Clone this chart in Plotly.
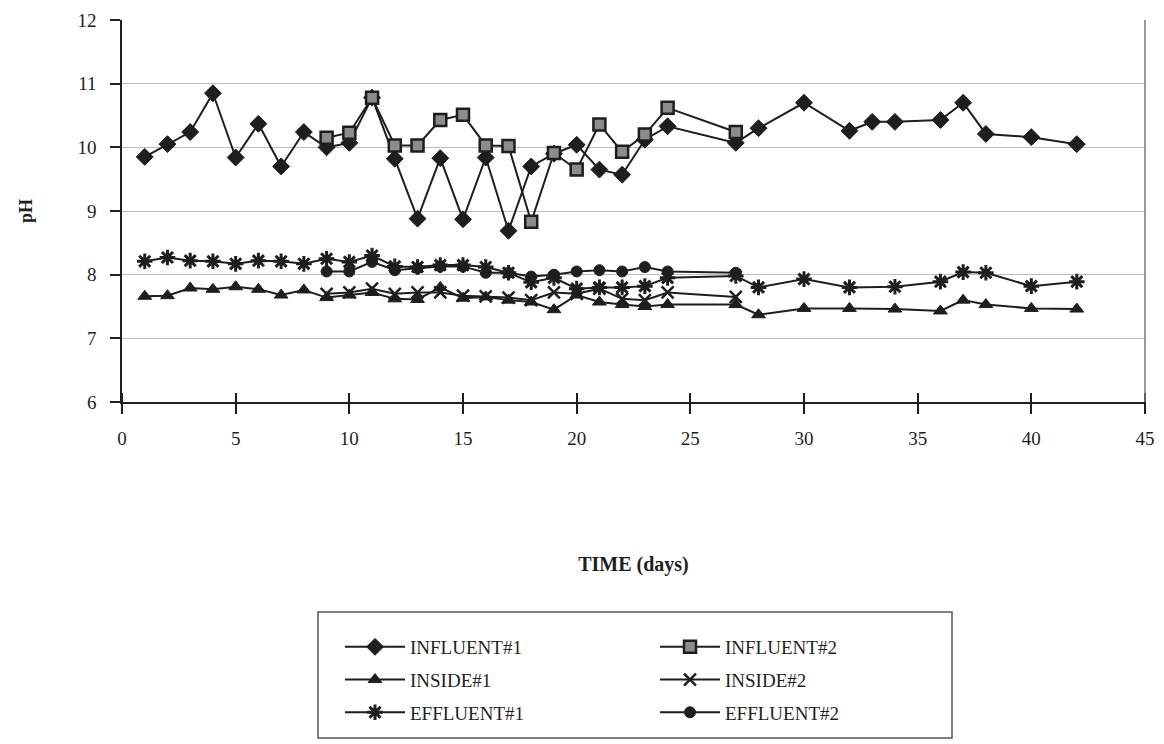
import plotly.graph_objects as go

# ---------------- data ----------------
days_1 = [1, 2, 3, 4, 5, 6, 7, 8, 9, 10, 11, 12, 13, 14, 15, 16, 17, 18, 19, 20,
          21, 22, 23, 24, 27, 28, 30, 32, 33, 34, 36, 37, 38, 40, 42]
influent_1 = [9.85, 10.05, 10.24, 10.85, 9.84, 10.37, 9.70, 10.24, 10.0, 10.07,
              10.78, 9.82, 8.88, 9.83, 8.87, 9.84, 8.69, 9.70, 9.90, 10.04,
              9.65, 9.57, 10.12, 10.33, 10.07, 10.30, 10.70, 10.26, 10.40, 10.40,
              10.43, 10.70, 10.21, 10.16, 10.05]

days_1b = [1, 2, 3, 4, 5, 6, 7, 8, 9, 10, 11, 12, 13, 14, 15, 16, 17, 18, 19, 20,
           21, 22, 23, 24, 27, 28, 30, 32, 34, 36, 37, 38, 40, 42]
inside_1 = [7.66, 7.67, 7.79, 7.77, 7.81, 7.77, 7.68, 7.76, 7.64, 7.68,
            7.72, 7.62, 7.61, 7.80, 7.63, 7.65, 7.60, 7.57, 7.45, 7.68,
            7.57, 7.53, 7.50, 7.53, 7.53, 7.37, 7.47, 7.47, 7.46, 7.43,
            7.60, 7.53, 7.47, 7.46]
effluent_1 = [8.21, 8.27, 8.22, 8.21, 8.17, 8.22, 8.21, 8.17, 8.25, 8.20,
              8.30, 8.13, 8.12, 8.15, 8.15, 8.12, 8.03, 7.88, 7.95, 7.78,
              7.80, 7.80, 7.82, 7.95, 7.98, 7.80, 7.93, 7.80, 7.81, 7.89,
              8.04, 8.03, 7.82, 7.89]

days_2 = [9, 10, 11, 12, 13, 14, 15, 16, 17, 18, 19, 20, 21, 22, 23, 24, 27]
influent_2 = [10.15, 10.23, 10.78, 10.03, 10.03, 10.43, 10.51, 10.03, 10.02,
              8.83, 9.91, 9.65, 10.36, 9.93, 10.20, 10.62, 10.24]
inside_2 = [7.70, 7.72, 7.78, 7.70, 7.72, 7.72, 7.67, 7.66, 7.64,
            7.60, 7.72, 7.70, 7.78, 7.62, 7.60, 7.72, 7.65]
effluent_2 = [8.05, 8.05, 8.20, 8.07, 8.10, 8.13, 8.13, 8.03, 8.03,
              7.97, 8.00, 8.05, 8.07, 8.05, 8.12, 8.05, 8.03]

x_ticks = [0, 5, 10, 15, 20, 25, 30, 35, 40, 45]
y_ticks = [6, 7, 8, 9, 10, 11, 12]

# ---------------- styles ----------------
SERIF = "Liberation Serif"
INK = "#1e1e1e"
LINE = dict(color=INK, width=2)

fig = go.Figure()

def add(name, x, y, marker, legend, group):
    fig.add_trace(go.Scatter(
        x=x, y=y, name=name, mode="lines+markers",
        line=LINE, marker=marker, legend=legend, legendgroup=group,
    ))

add("INFLUENT#1", days_1, influent_1,
    dict(symbol="diamond", size=13, color=INK, line=dict(color=INK, width=1)), "legend", "a")
add("INSIDE#1", days_1b, inside_1,
    dict(symbol="triangle-up", size=12, color=INK, line=dict(color=INK, width=1)), "legend", "b")
add("EFFLUENT#1", days_1b, effluent_1,
    dict(symbol="asterisk-open", size=13, color=INK, line=dict(color=INK, width=3)), "legend", "c")
add("INFLUENT#2", days_2, influent_2,
    dict(symbol="square", size=12, color="#8c8c8c", line=dict(color=INK, width=2.5)), "legend2", "d")
add("INSIDE#2", days_2, inside_2,
    dict(symbol="x-thin-open", size=12, color=INK, line=dict(color=INK, width=2.5)), "legend2", "e")
add("EFFLUENT#2", days_2, effluent_2,
    dict(symbol="circle", size=11, color=INK, line=dict(color=INK, width=1)), "legend2", "f")

# plot area geometry (pixels)
W, H = 1164, 744
L, R, T, B = 122, 19, 20, 342
pw, ph = W - L - R, H - T - B

def px_x(p):
    return (p - L) / pw

def px_y(p):
    return (H - B - p) / ph

legend_common = dict(
    font=dict(family=SERIF, size=19, color=INK),
    bgcolor="rgba(0,0,0,0)", borderwidth=0,
    xanchor="left", yanchor="top", orientation="v",
    itemwidth=60, tracegroupgap=5, traceorder="grouped",
)

fig.update_layout(
    width=W, height=H,
    margin=dict(l=L, r=R, t=T, b=B, autoexpand=False),
    paper_bgcolor="white", plot_bgcolor="white",
    font=dict(family=SERIF, size=19, color=INK),
    showlegend=True,
    legend=dict(x=px_x(340), y=px_y(628), **legend_common),
    legend2=dict(x=px_x(655), y=px_y(628), **legend_common),
    xaxis=dict(
        range=[0, 45], tickvals=x_ticks, ticktext=[str(v) for v in x_ticks],
        showgrid=False, zeroline=False,
        showline=True, linecolor=INK, linewidth=1.5,
        ticks="outside", ticklen=10, tickwidth=1.5, tickcolor=INK,
        ticklabelstandoff=8,
        tickfont=dict(family=SERIF, size=19, color=INK),
        title=dict(text="<b>TIME (days)</b>", standoff=109,
                   font=dict(family=SERIF, size=20, color=INK)),
        automargin=False,
    ),
    # second copy of the x axis, lifted 10 px, whose long ticks make the
    # main ticks cross the axis line (Excel "cross" tick marks)
    xaxis2=dict(
        range=[0, 45], tickvals=x_ticks, overlaying="x", anchor="free",
        position=10 / ph, side="bottom",
        showgrid=False, zeroline=False, showline=False,
        ticks="outside", ticklen=20, tickwidth=1.5, tickcolor=INK,
        showticklabels=False, automargin=False,
    ),
    yaxis=dict(
        range=[6, 12], tickvals=y_ticks,
        showgrid=True, gridcolor="#bdbdbd", gridwidth=1,
        zeroline=False,
        showline=True, linecolor=INK, linewidth=1.5, mirror=False,
        ticks="outside", ticklen=10, tickwidth=1.5, tickcolor=INK,
        ticklabelstandoff=10,
        tickfont=dict(family=SERIF, size=19, color=INK),
        title=dict(text="<b>pH</b>", standoff=40,
                   font=dict(family=SERIF, size=18, color=INK)),
        automargin=False,
    ),
    shapes=[
        # right frame of the plot area
        dict(type="line", xref="paper", yref="paper", x0=1, x1=1, y0=0, y1=1,
             line=dict(color="#777777", width=1.5)),
        # legend box
        dict(type="rect", xref="paper", yref="paper",
             x0=px_x(318), x1=px_x(952), y0=px_y(612), y1=px_y(738),
             line=dict(color="#555555", width=1.5), fillcolor="rgba(0,0,0,0)"),
    ],
)

# put one trace on the overlay axis so it is drawn; ranges are identical
fig.data[5].update(xaxis="x2")

fig.write_html("out.html")
